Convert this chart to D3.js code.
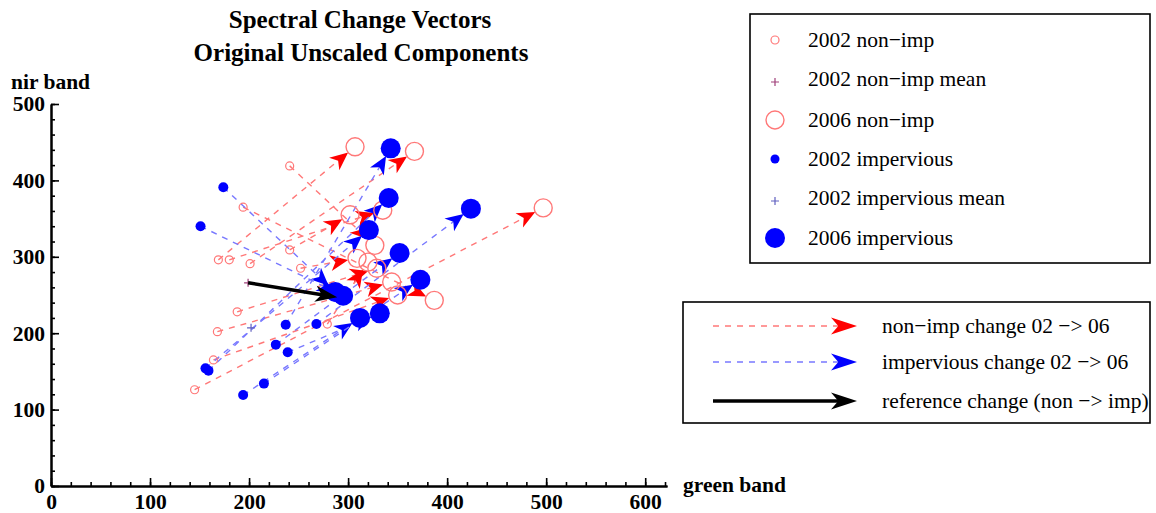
<!DOCTYPE html>
<html>
<head>
<meta charset="utf-8">
<script src="https://cdn.jsdelivr.net/npm/d3@7"></script>
<style>
  body { margin: 0; background: #fff; }
  text { font-family: 'Liberation Serif', 'DejaVu Serif', serif; }
</style>
</head>
<body>
<div id="chart"></div>
<script>
// 2002 -> 2006 spectral values, [green, nir]
const nonImp2002 = [
  [169, 296], [201, 291], [241, 419], [194, 365], [180, 296], [188, 228],
  [168, 202], [164, 165], [145, 126], [279, 212], [252, 285], [241, 309],
];
const nonImp2006 = [
  [307, 444], [367, 438], [327, 315], [387, 243], [335, 361], [329, 285],
  [344, 267], [350, 250], [497, 364], [320, 293], [309, 298], [302, 355],
];
const imp2002 = [
  [174, 391], [151, 340], [156, 154], [159, 151], [237, 211],
  [268, 212], [227, 185], [239, 175], [194, 119], [215, 134],
];
const imp2006 = [
  [287, 254], [295, 249], [321, 335], [341, 377], [343, 442],
  [424, 363], [352, 305], [332, 226], [312, 220], [373, 270],
];
const nonImpMean = [199, 266];
const impMean = [202, 207];
const referenceChange = [[199, 266], [289, 247]];

const xTicks = [0, 100, 200, 300, 400, 500, 600];
const yTicks = [0, 100, 200, 300, 400, 500];

const legendPoints = ['2002 non\u2212imp', '2002 non\u2212imp mean', '2006 non\u2212imp',
  '2002 impervious', '2002 impervious mean', '2006 impervious'];
const legendArrows = ['non\u2212imp change 02 \u2212> 06', 'impervious change 02 \u2212> 06',
  'reference change (non \u2212> imp)'];

const width = 1156;
const height = 513;

const lightRed = '#ff7878';
const lightBlue = '#7878ff';
const textSize = 21.5;

const svg = d3.select('#chart')
  .append('svg')
  .attr('width', width)
  .attr('height', height);

const x = d3.scaleLinear().domain([0, 622]).range([51, 667]);
const y = d3.scaleLinear().domain([0, 500]).range([486, 104]);

// title
svg.append('text')
  .attr('x', 360).attr('y', 28)
  .attr('text-anchor', 'middle')
  .attr('font-size', 25).attr('font-weight', 'bold')
  .text('Spectral Change Vectors');
svg.append('text')
  .attr('x', 361).attr('y', 61)
  .attr('text-anchor', 'middle')
  .attr('font-size', 25).attr('font-weight', 'bold')
  .text('Original Unscaled Components');

// axes: minor ticks then major ticks with labels
svg.append('g')
  .attr('transform', `translate(0,${y(0)})`)
  .call(d3.axisBottom(x).tickValues(d3.range(0, 621, 20)).tickSize(-4).tickFormat('').tickSizeOuter(0));
svg.append('g')
  .attr('class', 'xmajor')
  .attr('transform', `translate(0,${y(0)})`)
  .call(d3.axisBottom(x).tickValues(xTicks).tickSize(-8).tickPadding(8).tickSizeOuter(0));
svg.append('g')
  .attr('transform', `translate(${x(0)},0)`)
  .call(d3.axisLeft(y).tickValues(d3.range(0, 501, 20)).tickSize(-4).tickFormat('').tickSizeOuter(0));
svg.append('g')
  .attr('transform', `translate(${x(0)},0)`)
  .call(d3.axisLeft(y).tickValues(yTicks).tickSize(-8).tickPadding(6).tickSizeOuter(0));

svg.selectAll('.domain').attr('stroke', '#000').attr('stroke-width', 2);
svg.selectAll('.tick line').attr('stroke', '#000').attr('stroke-width', 1.6);
svg.selectAll('.tick text')
  .attr('font-family', "'Liberation Serif', serif")
  .attr('font-size', textSize)
  .attr('font-weight', 'bold')
  .attr('fill', '#000');
svg.selectAll('.xmajor .tick text').attr('dy', '0.71em');

svg.append('text')
  .attr('x', 11).attr('y', 89)
  .attr('font-size', textSize).attr('font-weight', 'bold')
  .text('nir band');
svg.append('text')
  .attr('x', 683).attr('y', 492)
  .attr('font-size', textSize).attr('font-weight', 'bold')
  .text('green band');

// arrowhead polygon with tip at (tx, ty) pointing along angle
function arrowHead(tx, ty, ang, len, half) {
  const c = Math.cos(ang);
  const s = Math.sin(ang);
  const pt = (a, b) => [tx - a * c - b * -s, ty - a * s - b * c];
  return [pt(0, 0), pt(len, half), pt(len * 0.72, 0), pt(len, -half)];
}

function drawVector(g, p0, p1, lineColor, headColor, gap, dashed, strokeW, len, half) {
  const x0 = x(p0[0]);
  const y0 = y(p0[1]);
  const x1 = x(p1[0]);
  const y1 = y(p1[1]);
  const ang = Math.atan2(y1 - y0, x1 - x0);
  const d = Math.hypot(x1 - x0, y1 - y0);
  const tipX = x0 + Math.cos(ang) * (d - gap);
  const tipY = y0 + Math.sin(ang) * (d - gap);
  g.append('line')
    .attr('x1', x0).attr('y1', y0)
    .attr('x2', tipX - Math.cos(ang) * len * 0.7)
    .attr('y2', tipY - Math.sin(ang) * len * 0.7)
    .attr('stroke', lineColor)
    .attr('stroke-width', strokeW)
    .attr('stroke-dasharray', dashed ? '6,6' : null);
  g.append('polygon')
    .attr('points', arrowHead(tipX, tipY, ang, len, half).join(' '))
    .attr('fill', headColor);
}

const plot = svg.append('g');

// change vectors
nonImp2002.forEach((p, i) => drawVector(plot, p, nonImp2006[i], lightRed, '#ff0000', 9, true, 1.4, 18, 8));
imp2002.forEach((p, i) => drawVector(plot, p, imp2006[i], lightBlue, '#0000ff', 9, true, 1.4, 18, 8));

// points
plot.selectAll('.nonimp02')
  .data(nonImp2002).enter().append('circle')
  .attr('cx', d => x(d[0])).attr('cy', d => y(d[1])).attr('r', 4)
  .attr('fill', 'none').attr('stroke', lightRed).attr('stroke-width', 1.2);
plot.selectAll('.nonimp06')
  .data(nonImp2006).enter().append('circle')
  .attr('cx', d => x(d[0])).attr('cy', d => y(d[1])).attr('r', 9)
  .attr('fill', 'none').attr('stroke', lightRed).attr('stroke-width', 1.4);
plot.selectAll('.imp02')
  .data(imp2002).enter().append('circle')
  .attr('cx', d => x(d[0])).attr('cy', d => y(d[1])).attr('r', 5)
  .attr('fill', '#0000ff');
plot.selectAll('.imp06')
  .data(imp2006).enter().append('circle')
  .attr('cx', d => x(d[0])).attr('cy', d => y(d[1])).attr('r', 10)
  .attr('fill', '#0000ff');

function cross(g, cx, cy, color) {
  g.append('path')
    .attr('d', `M${cx - 4},${cy}H${cx + 4}M${cx},${cy - 4}V${cy + 4}`)
    .attr('stroke', color).attr('stroke-width', 1.2);
}
cross(plot, x(nonImpMean[0]), y(nonImpMean[1]), '#a0407a');
cross(plot, x(impMean[0]), y(impMean[1]), '#6060c0');

// reference change
drawVector(plot, referenceChange[0], referenceChange[1], '#000', '#000', 0, false, 3.5, 22, 8);

// point legend
const leg1 = svg.append('g');
leg1.append('rect')
  .attr('x', 750).attr('y', 14).attr('width', 400).attr('height', 249)
  .attr('fill', '#fff').attr('stroke', '#000').attr('stroke-width', 1.6);
const leg1Y = [40, 79, 120, 159, 198, 238];
legendPoints.forEach((label, i) => {
  const cy = leg1Y[i];
  if (i === 0) {
    leg1.append('circle').attr('cx', 775).attr('cy', cy).attr('r', 4)
      .attr('fill', 'none').attr('stroke', lightRed).attr('stroke-width', 1.2);
  } else if (i === 1) {
    cross(leg1, 775, cy + 3, '#a0407a');
  } else if (i === 2) {
    leg1.append('circle').attr('cx', 775).attr('cy', cy).attr('r', 9)
      .attr('fill', 'none').attr('stroke', lightRed).attr('stroke-width', 1.4);
  } else if (i === 3) {
    leg1.append('circle').attr('cx', 775).attr('cy', cy).attr('r', 4.5).attr('fill', '#0000ff');
  } else if (i === 4) {
    cross(leg1, 775, cy + 3, '#6060c0');
  } else {
    leg1.append('circle').attr('cx', 775).attr('cy', cy).attr('r', 10).attr('fill', '#0000ff');
  }
  leg1.append('text')
    .attr('x', 808).attr('y', cy + 7)
    .attr('font-size', textSize)
    .text(label);
});

// arrow legend
const leg2 = svg.append('g');
leg2.append('rect')
  .attr('x', 683).attr('y', 302).attr('width', 467).attr('height', 121)
  .attr('fill', '#fff').attr('stroke', '#000').attr('stroke-width', 1.6);
const leg2Y = [326, 362, 401];
const leg2Style = [
  { line: lightRed, head: '#ff0000', dashed: true, w: 1.4 },
  { line: lightBlue, head: '#0000ff', dashed: true, w: 1.4 },
  { line: '#000', head: '#000', dashed: false, w: 3.5 },
];
legendArrows.forEach((label, i) => {
  const cy = leg2Y[i];
  const st = leg2Style[i];
  leg2.append('line')
    .attr('x1', 713).attr('y1', cy).attr('x2', 840).attr('y2', cy)
    .attr('stroke', st.line).attr('stroke-width', st.w)
    .attr('stroke-dasharray', st.dashed ? '6,6' : null);
  leg2.append('polygon')
    .attr('points', arrowHead(857, cy, 0, 26, 8.5).join(' '))
    .attr('fill', st.head);
  leg2.append('text')
    .attr('x', 882).attr('y', cy + 7)
    .attr('font-size', textSize)
    .text(label);
});
</script>
</body>
</html>
